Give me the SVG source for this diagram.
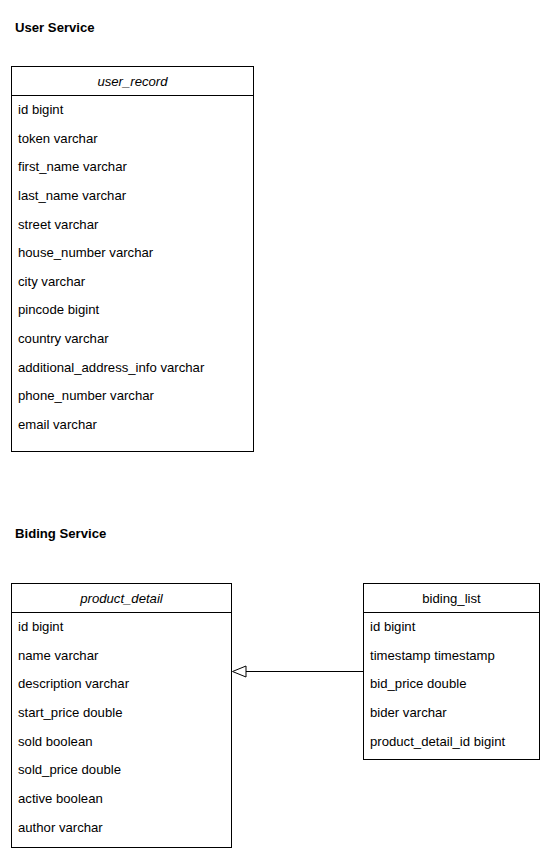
<svg xmlns="http://www.w3.org/2000/svg" width="552" height="860" viewBox="0 0 552 860">
<defs>
<style>
text{font-family:"Liberation Sans",Arial,sans-serif;font-size:13.15px;fill:#000}
.t{font-weight:bold}
.h{text-anchor:middle}
.i{font-style:italic}
.box{fill:#fff;stroke:#000;stroke-width:1}
.sep{stroke:#000;stroke-width:1}
.edge{stroke:#000;stroke-width:1;fill:none}
</style>
</defs>
<rect width="552" height="860" fill="#fff"/>
<text class="t" x="15" y="32">User Service</text>
<text class="t" x="15" y="538">Biding Service</text>
<g id="user_record">
<rect class="box" x="11.5" y="66.5" width="242" height="385"/>
<line class="sep" x1="11.5" y1="95.5" x2="253.5" y2="95.5"/>
<text class="h i" x="132.5" y="86">user_record</text>
<text x="18" y="114">id bigint</text>
<text x="18" y="142.5">token varchar</text>
<text x="18" y="171.2">first_name varchar</text>
<text x="18" y="199.8">last_name varchar</text>
<text x="18" y="228.5">street varchar</text>
<text x="18" y="257.1">house_number varchar</text>
<text x="18" y="285.7">city varchar</text>
<text x="18" y="314.4">pincode bigint</text>
<text x="18" y="343">country varchar</text>
<text x="18" y="371.6">additional_address_info varchar</text>
<text x="18" y="400.3">phone_number varchar</text>
<text x="18" y="428.9">email varchar</text>
</g>
<g id="product_detail">
<rect class="box" x="11.5" y="583.5" width="220" height="264"/>
<line class="sep" x1="11.5" y1="612.5" x2="231.5" y2="612.5"/>
<text class="h i" x="121.5" y="603">product_detail</text>
<text x="18" y="631">id bigint</text>
<text x="18" y="659.7">name varchar</text>
<text x="18" y="688.3">description varchar</text>
<text x="18" y="717">start_price double</text>
<text x="18" y="745.6">sold boolean</text>
<text x="18" y="774.2">sold_price double</text>
<text x="18" y="802.9">active boolean</text>
<text x="18" y="831.5">author varchar</text>
</g>
<g id="biding_list">
<rect class="box" x="363.5" y="583.5" width="176" height="176"/>
<line class="sep" x1="363.5" y1="612.5" x2="539.5" y2="612.5"/>
<text class="h" x="451.5" y="603">biding_list</text>
<text x="370" y="631">id bigint</text>
<text x="370" y="659.7">timestamp timestamp</text>
<text x="370" y="688.3">bid_price double</text>
<text x="370" y="717">bider varchar</text>
<text x="370" y="745.6">product_detail_id bigint</text>
</g>
<g id="connectors">
<path class="edge" d="M363.5,671.5 L246,671.5"/>
<path d="M246,666 L232.5,671.5 L246,677 Z" fill="#fff" stroke="#000" stroke-width="1"/>
</g>
</svg>
